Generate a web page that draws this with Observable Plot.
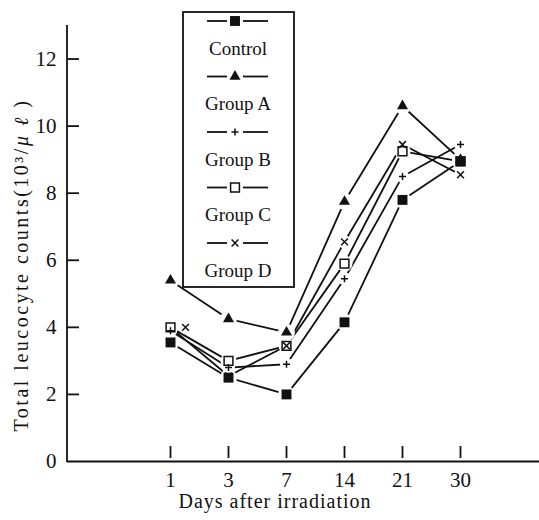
<!DOCTYPE html>
<html>
<head>
<meta charset="utf-8">
<script src="https://cdn.jsdelivr.net/npm/d3@7"></script>
<script src="https://cdn.jsdelivr.net/npm/@observablehq/plot@0.6"></script>
<style>
  html, body { margin: 0; padding: 0; background: #fff; }
  #chart { position: relative; width: 539px; height: 520px; }
  #chart svg, #chart svg text { font-family: "Liberation Serif", Tinos, "DejaVu Serif", serif !important; }
</style>
</head>
<body>
<div id="chart"></div>
<script>
const days = [1, 3, 7, 14, 21, 30];
const yTicks = [0, 2, 4, 6, 8, 10, 12];
const seriesNames = ["Control", "Group A", "Group B", "Group C", "Group D"];
const control = [3.55, 2.5, 2.0, 4.15, 7.8, 8.95];
const groupA  = [5.4, 4.25, 3.85, 7.75, 10.6, 9.0];
const groupB  = [3.9, 2.8, 2.9, 5.45, 8.5, 9.45];
const groupC  = [4.0, 3.0, 3.45, 5.9, 9.25, 8.95];
const groupD  = [4.0, 2.55, 3.45, 6.55, 9.45, 8.55];
const xLabel = "Days after irradiation";
const yLabelMain = "Total leucocyte counts(10³/";
const yLabelUnit = "μ ℓ";

const seriesValues = [control, groupA, groupB, groupC, groupD];
const symbols = {
  "Control": {symbol: "square", r: 5.6, fill: "#111", stroke: "none", halo: 8.5},
  "Group A": {symbol: "triangle", r: 4.1, fill: "#111", stroke: "none", halo: 8.5},
  "Group B": {symbol: "plus", r: 2.4, fill: "none", stroke: "#111", halo: 6.5},
  "Group C": {symbol: "square2", r: 5.6, fill: "#fff", stroke: "#111", halo: 8},
  "Group D": {symbol: "times", r: 3.2, fill: "none", stroke: "#111", halo: 6.5}
};

const rows = [];
seriesNames.forEach((s, i) => days.forEach((d, j) => rows.push({series: s, day: d, value: seriesValues[i][j]})));
const bySeries = s => rows.filter(r => r.series === s);

const W = 539, H = 520, mL = 67, mR = 0, mT = 25, mB = 59;
const ink = "#111";
const font = "'Liberation Serif', Tinos, 'DejaVu Serif', serif";

function dots(s, data, extra = {}) {
  const o = symbols[s];
  return Plot.dot(data, {x: "day", y: "value", symbol: () => o.symbol, r: o.r,
    fill: o.fill, stroke: o.stroke, strokeWidth: 1.5, ...extra});
}
function halos(s, data, extra = {}) {
  return Plot.dot(data, {x: "day", y: "value", r: symbols[s].halo, fill: "#fff", stroke: "none", ...extra});
}

const dD1 = bySeries("Group D").filter(d => d.day === 1);
const dDrest = bySeries("Group D").filter(d => d.day !== 1);

const svg = Plot.plot({
  width: W, height: H,
  marginLeft: mL, marginRight: mR, marginTop: mT, marginBottom: mB,
  style: {fontFamily: font, fontSize: "20px", background: "#fff", color: ink},
  x: {type: "point", domain: days, range: [139, 490], label: null},
  y: {domain: [0, 13], label: null},
  marks: [
    Plot.axisX({ticks: days, tickSize: 0, tickPadding: 11, fontSize: 21, label: null}),
    Plot.axisY({ticks: yTicks, tickSize: 0, tickPadding: 11, fontSize: 21, label: null}),
    Plot.ruleY([0], {stroke: ink, strokeWidth: 1.8}),
    Plot.tickY(yTicks.filter(v => v > 0), {y: d => d, insetRight: W - mL - mR - 12, stroke: ink, strokeWidth: 1.8}),
    Plot.tickX(days, {x: d => d, insetTop: (H - mT - mB) - 15, insetBottom: 3, stroke: ink, strokeWidth: 1.8}),
    Plot.line(rows, {x: "day", y: "value", z: "series", stroke: ink, strokeWidth: 1.8}),
    halos("Control", bySeries("Control")),
    halos("Group A", bySeries("Group A")),
    halos("Group B", bySeries("Group B")),
    halos("Group C", bySeries("Group C")),
    halos("Group D", dDrest),
    halos("Group D", dD1, {dx: 15}),
    dots("Group C", bySeries("Group C")),
    dots("Group D", dDrest),
    dots("Group D", dD1, {dx: 15}),
    dots("Group B", bySeries("Group B")),
    dots("Group A", bySeries("Group A")),
    dots("Control", bySeries("Control"))
  ]
});

const root = d3.select(svg);
root.append("line").attr("x1", mL).attr("x2", mL).attr("y1", mT).attr("y2", H - mB + 1)
  .attr("stroke", ink).attr("stroke-width", 1.8);

root.append("text").attr("x", 275).attr("y", 508).attr("text-anchor", "middle")
  .attr("font-family", font).attr("font-size", 20).attr("letter-spacing", 1).attr("fill", ink).text(xLabel);
const yl = root.append("text").attr("transform", "translate(28,265) rotate(-90)")
  .attr("text-anchor", "middle").attr("font-family", font).attr("font-size", 20).attr("letter-spacing", 2.5).attr("fill", ink);
yl.append("tspan").text(yLabelMain);
yl.append("tspan").attr("font-style", "italic").text(yLabelUnit);
yl.append("tspan").text(" )");

const lg = root.append("g");
lg.append("rect").attr("x", 183).attr("y", 12).attr("width", 111).attr("height", 275)
  .attr("fill", "#fff").attr("stroke", ink).attr("stroke-width", 1.8);
const symMap = {square: d3.symbolSquare, triangle: d3.symbolTriangle, plus: d3.symbolPlus, square2: d3.symbolSquare2, times: d3.symbolTimes};
seriesNames.forEach((s, i) => {
  const ly = 21 + i * 55.5;
  const o = symbols[s];
  lg.append("line").attr("x1", 207).attr("x2", 227).attr("y1", ly).attr("y2", ly).attr("stroke", ink).attr("stroke-width", 1.8);
  lg.append("line").attr("x1", 243).attr("x2", 268).attr("y1", ly).attr("y2", ly).attr("stroke", ink).attr("stroke-width", 1.8);
  lg.append("path").attr("transform", `translate(235,${ly})`)
    .attr("d", d3.symbol(symMap[o.symbol], o.r * o.r * Math.PI)())
    .attr("fill", o.fill).attr("stroke", o.stroke).attr("stroke-width", 1.5);
  lg.append("text").attr("x", 238).attr("y", ly + 27).attr("text-anchor", "middle")
    .attr("dominant-baseline", "central").attr("font-family", font).attr("font-size", 19).attr("fill", ink).text(s);
});

document.getElementById("chart").appendChild(svg);
</script>
</body>
</html>
